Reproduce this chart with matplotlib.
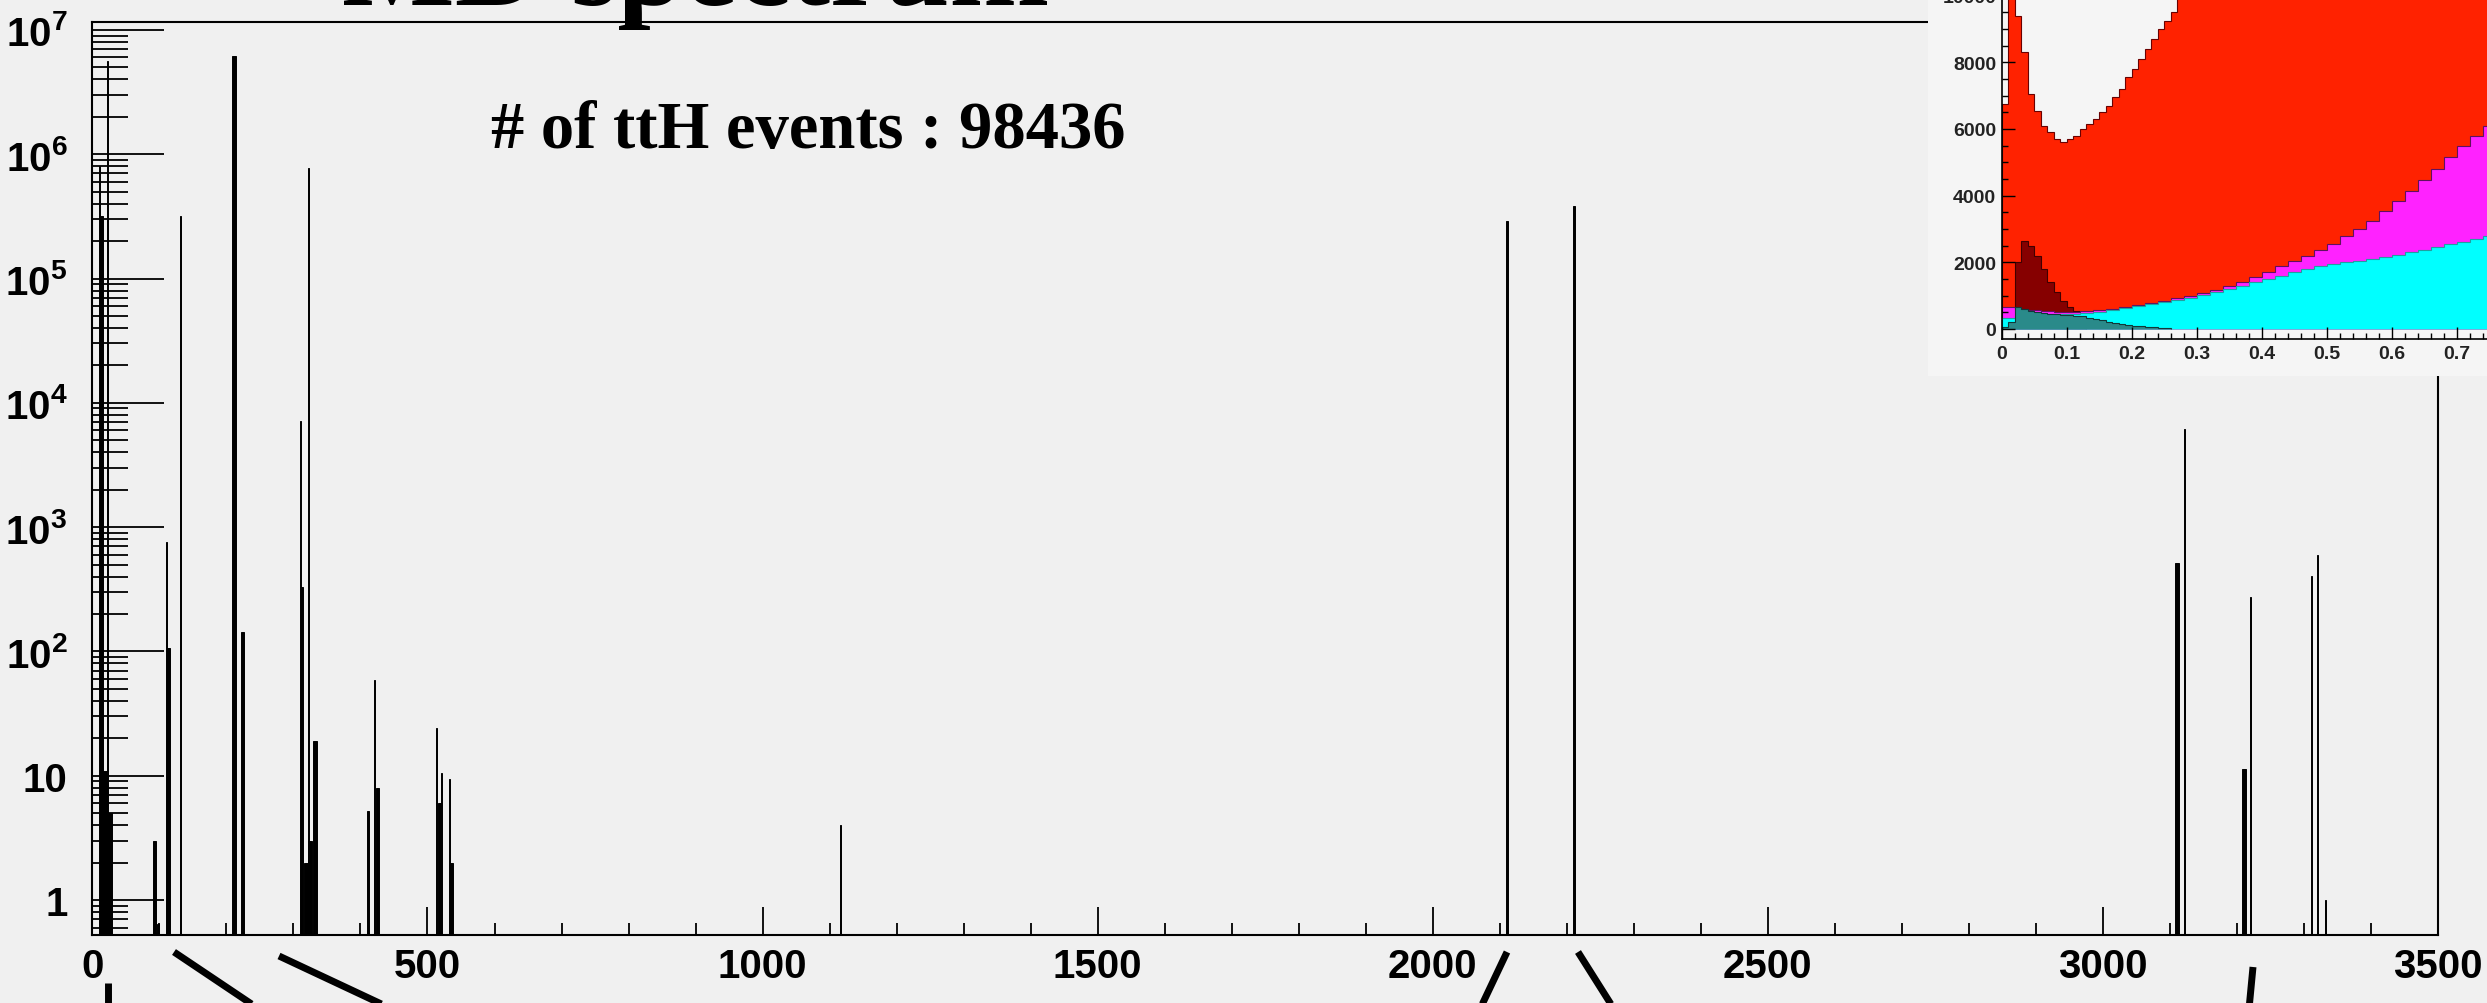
import numpy as np
import matplotlib
matplotlib.use("Agg")
import matplotlib.pyplot as plt
from matplotlib.lines import Line2D
from matplotlib.patches import Rectangle
from matplotlib.ticker import (FixedLocator, FixedFormatter, LogLocator,
                               NullFormatter, MultipleLocator)

spike_x = [11, 14, 19, 23, 25, 93, 98, 111, 114, 131, 211, 224,
           310, 313, 318, 322, 325, 332, 411, 421.5, 425,
           513, 518, 521, 533, 536, 1116, 2111, 2211,
           3110, 3121, 3210.5, 3220, 3311, 3320.6, 3332]
spike_h = [8.1e5, 3.2e5, 11, 5.6e6, 5, 3, 0.64, 760, 106, 3.2e5, 6.2e6, 144,
           7100, 330, 2, 7.8e5, 3, 19, 5.2, 59, 8,
           24, 6, 10.5, 9.4, 2, 4.0, 2.9e5, 3.85e5,
           517, 6150, 11.4, 274, 405, 600, 1]
spike_w = [1.5, 4, 5, 1.5, 8, 4, 2, 1.5, 4, 1.5, 6, 5,
           1.5, 3, 6, 1.5, 6, 5, 4, 1.5, 4,
           1.5, 4, 1.5, 1.5, 4, 1.5, 4, 4,
           6, 1.5, 6, 1.5, 1.5, 1.5, 1.5]

y_decades = [1, 10, 1e2, 1e3, 1e4, 1e5, 1e6, 1e7]
y_labels = ['1', '10', r'$10^{2}$', r'$10^{3}$', r'$10^{4}$',
            r'$10^{5}$', r'$10^{6}$', r'$10^{7}$']

# inset: stacked histograms
red_edges = list(np.round(np.arange(0, 0.285, 0.01), 2)) + [1.0]
red_top = [6750, 12000, 9400, 8300, 7050, 6550, 6100, 5900, 5700, 5600,
           5700, 5800, 6000, 6150, 6300, 6500, 6700, 6950, 7200, 7550,
           7800, 8100, 8400, 8700, 9000, 9250, 9500, 12000, 12000]
stack_edges = np.round(np.arange(0, 0.775, 0.02), 2)
magenta_top = [650, 600, 560, 540, 520, 520, 540, 560, 600, 660,
               710, 780, 850, 920, 1000, 1080, 1180, 1300, 1420, 1560,
               1720, 1880, 2050, 2200, 2380, 2550, 2780, 3000, 3250, 3550,
               3850, 4150, 4480, 4800, 5150, 5480, 5780, 6080]
cyan_top = [330, 380, 400, 420, 440, 460, 490, 520, 560, 620,
            680, 740, 800, 870, 940, 1020, 1100, 1200, 1300, 1400,
            1500, 1600, 1700, 1800, 1880, 1950, 2000, 2050, 2100, 2170,
            2230, 2300, 2380, 2450, 2550, 2620, 2700, 2800]
darkred_edges = np.round(np.arange(0.02, 0.135, 0.01), 2)
darkred_h = [2000, 2650, 2500, 2200, 1800, 1400, 1100, 850, 650, 550, 450]
teal_edges = np.round(np.arange(0, 0.265, 0.01), 2)
teal_h = [50, 200, 650, 600, 550, 500, 480, 460, 450, 430, 420, 400, 380,
          340, 300, 260, 220, 180, 150, 120, 100, 80, 60, 50, 40, 30]
inset_xticks = [0, 0.1, 0.2, 0.3, 0.4, 0.5, 0.6, 0.7]
inset_xlabels = ['0', '0.1', '0.2', '0.3', '0.4', '0.5', '0.6', '0.7']

BG = '#f0f0f0'
INSET_BG = '#f5f5f5'
W, H = 2487, 1004

plt.rcParams['font.family'] = 'Liberation Sans'
plt.rcParams['font.weight'] = 'bold'
plt.rcParams['mathtext.fontset'] = 'custom'
plt.rcParams['mathtext.rm'] = 'Liberation Sans:bold'
plt.rcParams['mathtext.it'] = 'Liberation Sans:bold'
plt.rcParams['mathtext.bf'] = 'Liberation Sans:bold'

fig = plt.figure(figsize=(W / 100, H / 100), dpi=100, facecolor=BG)

ax = fig.add_axes([92.4 / W, 1 - 936 / H, (2438 - 92.4) / W, (936 - 22.7) / H])
ax.set_facecolor(BG)
base = 0.3
ax.bar(spike_x, np.array(spike_h) - base, bottom=base, width=spike_w,
       color='black', edgecolor='black', linewidth=0.7)
ax.set_yscale('log')
ax.set_xlim(0, 3500)
ax.set_ylim(0.523, 1.164e7)

ax.xaxis.set_major_locator(MultipleLocator(500))
ax.xaxis.set_minor_locator(MultipleLocator(100))
ax.yaxis.set_major_locator(FixedLocator(y_decades))
ax.yaxis.set_major_formatter(FixedFormatter(y_labels))
ax.yaxis.set_minor_locator(LogLocator(base=10, subs=np.arange(2, 10), numticks=40))
ax.yaxis.set_minor_formatter(NullFormatter())
ax.tick_params(axis='x', which='major', direction='in', length=20, width=1.3,
               pad=9, labelsize=29)
ax.tick_params(axis='x', which='minor', direction='in', length=8.5, width=1.3)
ax.tick_params(axis='y', which='major', direction='in', length=52, width=1.3,
               pad=18, labelsize=29)
ax.tick_params(axis='y', which='minor', direction='in', length=26, width=1.3)
for s in ax.spines.values():
    s.set_linewidth(1.5)

# inset frame
fig.add_artist(Rectangle((1928 / W, 1 - 377 / H), 1 - 1928 / W, 377 / H,
                         transform=fig.transFigure, facecolor=INSET_BG,
                         edgecolor='none', zorder=5))
iax = fig.add_axes([2001.7 / W, 1 - 340 / H, 650 / W, 410 / H], zorder=6)
iax.set_facecolor(INSET_BG)
iax.stairs(red_top, red_edges, baseline=0, fill=True, facecolor='#ff2200',
           edgecolor='#6a0000', linewidth=0.8)
iax.stairs(darkred_h, darkred_edges, baseline=0, fill=True, facecolor='#860000',
           edgecolor='#400000', linewidth=0.8)
iax.stairs(magenta_top, stack_edges, baseline=0, fill=True, facecolor='#ff22ff',
           edgecolor='#601060', linewidth=0.8)
iax.stairs(cyan_top, stack_edges, baseline=0, fill=True, facecolor='#00ffff',
           edgecolor='#20a0a0', linewidth=0.8)
iax.stairs(teal_h, teal_edges, baseline=0, fill=True, facecolor='#2a8a8a',
           edgecolor='#103838', linewidth=0.8)
iax.set_xlim(0, 1)
iax.set_ylim(-300, 12000)
iax.xaxis.set_major_locator(FixedLocator(inset_xticks))
iax.xaxis.set_major_formatter(FixedFormatter(inset_xlabels))
iax.xaxis.set_minor_locator(MultipleLocator(0.02))
iax.yaxis.set_major_locator(MultipleLocator(2000))
iax.yaxis.set_minor_locator(MultipleLocator(500))
iax.tick_params(which='major', direction='in', length=9, width=1, pad=4,
                labelsize=14, labelcolor='#222222')
iax.tick_params(which='minor', direction='in', length=4.5, width=1)
for s in iax.spines.values():
    s.set_linewidth(1.2)

# pointer strokes under the axis
strokes = [((108, 984), (108, 1010)), ((174, 953), (259, 1010)),
           ((279, 957), (392, 1010)), ((1507, 953), (1480, 1010)),
           ((1578, 953), (1614, 1010)), ((2253, 968), (2249, 1010))]
for (x0, y0), (x1, y1) in strokes:
    fig.add_artist(Line2D([x0 / W, x1 / W], [1 - y0 / H, 1 - y1 / H],
                          transform=fig.transFigure, color='black',
                          linewidth=5, solid_capstyle='butt', zorder=7))

fig.text(696 / W, 1 - 5 / H, 'MD spectrum', ha='center', va='baseline',
         fontsize=86, fontweight='bold', family='Liberation Serif', zorder=8)
fig.text(491 / W, 1 - 148 / H, '# of ttH events : 98436', ha='left',
         va='baseline', fontsize=48, fontweight='bold',
         family='Liberation Serif', zorder=8)

fig.savefig('out.png', dpi=100, facecolor=BG)
